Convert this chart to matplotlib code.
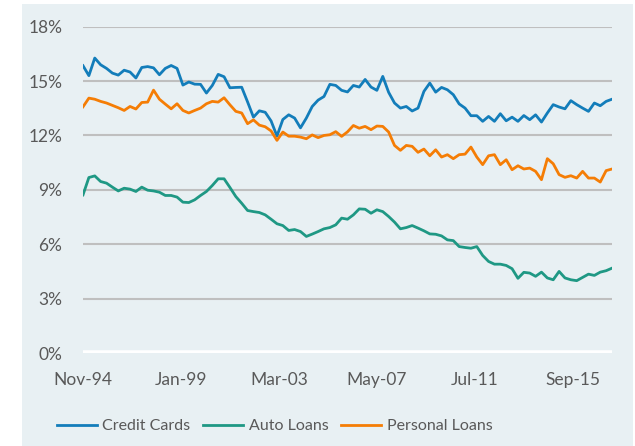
import numpy as np
import matplotlib
matplotlib.use("Agg")
import matplotlib.pyplot as plt
from matplotlib.patches import Rectangle

# Quarterly observations starting Nov-94 (values in %)
credit_cards = [15.85, 15.3, 16.27, 15.9, 15.7, 15.44, 15.33, 15.6, 15.5, 15.17,
                15.75, 15.8, 15.73, 15.35, 15.7, 15.86, 15.7, 14.78, 14.95, 14.83,
                14.82, 14.34, 14.76, 15.37, 15.24, 14.63, 14.65, 14.66, 13.85, 13.01,
                13.36, 13.28, 12.8, 11.97, 12.88, 13.14, 12.96, 12.42, 12.96, 13.6,
                13.95, 14.15, 14.82, 14.76, 14.49, 14.4, 14.76, 14.67, 15.09, 14.67,
                14.49, 15.26, 14.38, 13.79, 13.51, 13.6, 13.35, 13.51, 14.43, 14.89,
                14.39, 14.65, 14.52, 14.25, 13.74, 13.51, 13.09, 13.09, 12.78, 13.05,
                12.78, 13.2, 12.81, 13.01, 12.78, 13.1, 12.87, 13.14, 12.74, 13.24,
                13.7, 13.57, 13.47, 13.92, 13.7, 13.51, 13.33, 13.79, 13.64, 13.88,
                14.0]
auto_loans = [8.72, 9.68, 9.77, 9.46, 9.37, 9.15, 8.94, 9.09, 9.04, 8.91,
              9.15, 8.98, 8.94, 8.87, 8.69, 8.69, 8.6, 8.32, 8.3, 8.45,
              8.69, 8.91, 9.24, 9.61, 9.61, 9.13, 8.63, 8.26, 7.86, 7.8,
              7.75, 7.62, 7.38, 7.13, 7.03, 6.76, 6.81, 6.7, 6.43, 6.56,
              6.7, 6.85, 6.92, 7.07, 7.44, 7.38, 7.62, 7.95, 7.93, 7.71,
              7.9, 7.8, 7.53, 7.22, 6.85, 6.92, 7.03, 6.89, 6.74, 6.57,
              6.55, 6.46, 6.24, 6.2, 5.87, 5.82, 5.78, 5.87, 5.38, 5.05,
              4.9, 4.9, 4.83, 4.65, 4.12, 4.45, 4.41, 4.23, 4.46, 4.14,
              4.04, 4.5, 4.14, 4.04, 3.99, 4.17, 4.35, 4.28, 4.46, 4.54,
              4.68]
personal_loans = [13.58, 14.06, 14.0, 13.88, 13.79, 13.66, 13.53, 13.38, 13.6, 13.46,
                  13.82, 13.84, 14.5, 14.0, 13.73, 13.47, 13.75, 13.38, 13.24, 13.38,
                  13.51, 13.75, 13.88, 13.84, 14.08, 13.69, 13.33, 13.24, 12.65, 12.86,
                  12.57, 12.48, 12.25, 11.73, 12.19, 11.96, 11.96, 11.91, 11.82, 12.03,
                  11.88, 12.0, 12.04, 12.21, 11.95, 12.2, 12.55, 12.4, 12.5, 12.32,
                  12.52, 12.5, 12.19, 11.45, 11.18, 11.45, 11.4, 11.07, 11.25, 10.88,
                  11.21, 10.81, 10.94, 10.72, 10.94, 10.97, 11.36, 10.81, 10.39, 10.88,
                  10.94, 10.39, 10.66, 10.11, 10.33, 10.15, 10.2, 10.02, 9.56, 10.72,
                  10.44, 9.84, 9.69, 9.78, 9.65, 10.02, 9.65, 9.65, 9.43, 10.06,
                  10.15]
months_from_start = np.arange(len(credit_cards)) * 3
tick_months = [0, 50, 100, 150, 200, 250]
tick_labels = ["Nov-94", "Jan-99", "Mar-03", "May-07", "Jul-11", "Sep-15"]
y_ticks = [0, 3, 6, 9, 12, 15, 18]

BLUE = "#137dba"
TEAL = "#1f9884"
ORANGE = "#f57d05"
PANEL = "#e8f0f3"
TXT = "#595959"

plt.rcParams["font.family"] = ["Lato", "DejaVu Sans"]

fig = plt.figure(figsize=(6.35, 4.46), dpi=100)
fig.patch.set_facecolor("white")
fig.patches.append(Rectangle((22 / 635, 0), (633 - 22) / 635, 1 - 4 / 446,
                             transform=fig.transFigure, facecolor=PANEL,
                             edgecolor="none", zorder=-10))

ax = fig.add_axes([83 / 635, 1 - 353 / 446, (612 - 83) / 635, (353 - 26.7) / 446])
ax.set_facecolor("none")
for s in ax.spines.values():
    s.set_visible(False)

ax.plot(months_from_start, credit_cards, color=BLUE, lw=2.0, label="Credit Cards", zorder=3)
ax.plot(months_from_start, auto_loans, color=TEAL, lw=2.0, label="Auto Loans", zorder=3)
ax.plot(months_from_start, personal_loans, color=ORANGE, lw=2.0, label="Personal Loans", zorder=3)

ax.set_xlim(0, 270)
ax.set_ylim(0, 18)
ax.set_yticks(y_ticks)
ax.set_yticklabels([f"{v}%" for v in y_ticks])
ax.set_xticks(tick_months)
ax.set_xticklabels(tick_labels)
for v in y_ticks[1:]:
    ax.axhline(v, color="#bfbfbf", lw=1.5, zorder=1)
ax.axhline(0, color="white", lw=4, zorder=2)
ax.tick_params(axis="both", length=0, labelsize=12.5, colors=TXT)
ax.tick_params(axis="y", pad=15)
ax.tick_params(axis="x", pad=14)

leg = fig.legend(loc="center", bbox_to_anchor=(274.5 / 635, 1 - 426 / 446), ncol=3,
                 frameon=False, fontsize=11.5, handlelength=2.5, handletextpad=0.35,
                 columnspacing=0.8)
for t in leg.get_texts():
    t.set_color(TXT)

fig.savefig("out.png", dpi=100, facecolor="white")
